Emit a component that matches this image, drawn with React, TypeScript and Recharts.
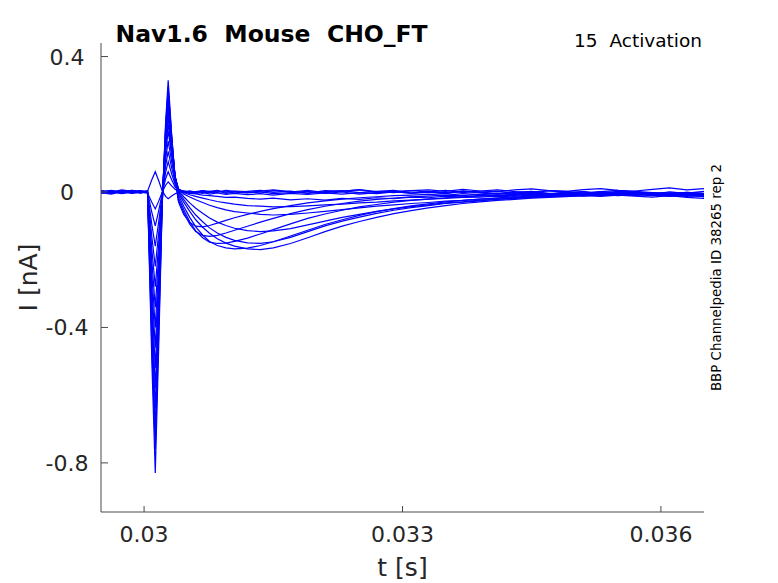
import React from 'react';
import { LineChart, Line, XAxis, YAxis } from 'recharts';

// sample times [s]
const times = [
  0.0295, 0.02962, 0.02974, 0.02986, 0.02996, 0.03004,
  0.03009, 0.03013, 0.03017, 0.03021, 0.03025, 0.03028, 0.03032, 0.03036, 0.0304,
  0.03046, 0.03053, 0.0306, 0.03068, 0.03076, 0.03085, 0.03095, 0.03105,
  0.0312, 0.03135, 0.0315, 0.0317, 0.0319, 0.0321, 0.0323, 0.0325, 0.0327, 0.0329, 0.0331,
  0.0333, 0.0335, 0.0337, 0.0339, 0.0341, 0.0343, 0.0345, 0.0347, 0.0349, 0.0351, 0.0353,
  0.0355, 0.0357, 0.0359, 0.0361, 0.0363, 0.0365,
];

// current sweeps [nA], one per voltage step
const sweep01 = [
  0.003, -0.002, 0.004, 0.001, -0.003, 0.002,
  0.036, 0.06, 0.033, 0.004, -0.013, -0.02, -0.012, -0.005, -0.001,
  0.003, 0.001, -0.002, 0.004, 0.002, -0.001, 0.005, 0.002,
  -0.002, 0.003, 0.006, 0.001, -0.003, 0.004, 0.002, 0.007, 0.001, -0.002, 0.004,
  0.006, 0.002, 0.008, 0.003, 0.001, 0.006, 0.009, 0.004, 0.002, 0.007, 0.01, 0.005, 0.003, 0.008, 0.012, 0.006, 0.01,
];
const sweep02 = [
  -0.004, 0.002, -0.001, 0.005, 0.0, -0.003,
  -0.03, -0.05, -0.027, -0.001, 0.02, 0.03, 0.018, 0.008, 0.002,
  -0.002, 0.003, 0.0, -0.004, 0.002, 0.005, -0.001, 0.003,
  0.001, -0.003, 0.004, 0.0, 0.005, -0.002, 0.003, 0.006, -0.001, 0.002, 0.004,
  0.0, 0.005, -0.002, 0.003, 0.006, 0.001, -0.003, 0.004, 0.002, -0.004, 0.001, 0.005, -0.002, -0.006, 0.0, -0.004, -0.008,
];
const sweep03 = [
  0.001, 0.005, -0.003, 0.002, 0.004, 0.0,
  -0.06, -0.1, -0.055, -0.004, 0.039, 0.06, 0.036, 0.015, 0.004,
  0.002, -0.003, 0.001, 0.004, -0.002, 0.0, 0.003, -0.004,
  0.002, 0.005, -0.001, 0.003, -0.004, 0.001, 0.004, -0.002, 0.002, 0.005, -0.003,
  0.001, -0.004, 0.003, 0.0, -0.005, -0.002, 0.002, -0.006, -0.003, 0.001, -0.007, -0.004, -0.009, -0.005, -0.01, -0.013, -0.011,
];
const sweep04 = [
  -0.002, -0.006, 0.001, -0.004, -0.001, -0.003,
  -0.096, -0.16, -0.088, -0.006, 0.058, 0.09, 0.054, 0.022, 0.005,
  -0.001, 0.002, -0.003, 0.001, -0.002, 0.003, -0.004, 0.0,
  -0.003, 0.001, -0.005, -0.002, 0.002, -0.004, 0.0, -0.006, -0.002, 0.001, -0.004,
  -0.001, -0.005, 0.002, -0.003, -0.006, -0.001, 0.001, -0.004, -0.008, -0.003, -0.006, -0.002, -0.007, -0.011, -0.006, -0.009, -0.014,
];
const sweep05 = [
  0.004, 0.0, 0.006, 0.002, -0.002, 0.003,
  -0.132, -0.22, -0.121, -0.008, 0.078, 0.12, 0.072, 0.03, 0.008,
  0.002, -0.002, -0.004, -0.001, -0.006, -0.003, -0.007, -0.004,
  -0.008, -0.005, -0.009, -0.004, -0.007, -0.003, -0.006, -0.002, -0.005, 0.0, -0.003,
  0.001, -0.002, 0.003, -0.001, 0.002, -0.004, 0.0, 0.004, -0.002, 0.001, -0.003, 0.002, -0.001, -0.005, 0.0, -0.003, 0.002,
];
const sweep06 = [
  -0.003, 0.001, -0.005, 0.0, 0.003, -0.002,
  -0.168, -0.28, -0.154, -0.012, 0.097, 0.15, 0.09, 0.036, 0.008,
  0.0, -0.004, -0.006, -0.009, -0.011, -0.013, -0.016, -0.015,
  -0.019, -0.021, -0.018, -0.023, -0.02, -0.024, -0.019, -0.022, -0.017, -0.02, -0.015,
  -0.017, -0.012, -0.015, -0.01, -0.013, -0.008, -0.011, -0.006, -0.009, -0.004, -0.008, -0.003, -0.007, -0.002, -0.006, -0.001, -0.005,
];
const sweep07 = [
  0.002, -0.003, 0.003, -0.001, 0.001, 0.004,
  -0.204, -0.34, -0.187, -0.015, 0.117, 0.18, 0.108, 0.043, 0.01,
  -0.002, -0.008, -0.013, -0.018, -0.023, -0.028, -0.032, -0.036,
  -0.04, -0.042, -0.044, -0.043, -0.041, -0.038, -0.036, -0.032, -0.03, -0.026, -0.024,
  -0.021, -0.019, -0.016, -0.015, -0.012, -0.013, -0.009, -0.01, -0.007, -0.008, -0.004, -0.007, -0.003, -0.006, -0.009, -0.004, -0.007,
];
const sweep08 = [
  -0.001, 0.003, -0.004, 0.002, -0.002, 0.001,
  -0.24, -0.4, -0.22, -0.018, 0.13, 0.2, 0.118, 0.045, 0.008,
  -0.006, -0.015, -0.023, -0.031, -0.039, -0.046, -0.053, -0.058,
  -0.062, -0.066, -0.068, -0.066, -0.062, -0.057, -0.052, -0.047, -0.042, -0.038, -0.034,
  -0.031, -0.027, -0.025, -0.021, -0.019, -0.017, -0.014, -0.013, -0.011, -0.008, -0.01, -0.006, -0.009, -0.005, -0.008, -0.006, -0.01,
];
const sweep09 = [
  0.003, -0.002, 0.001, 0.005, 0.0, -0.002,
  -0.276, -0.46, -0.253, -0.02, 0.143, 0.22, 0.128, 0.046, 0.004,
  -0.014, -0.032, -0.048, -0.063, -0.077, -0.089, -0.099, -0.107,
  -0.114, -0.117, -0.115, -0.108, -0.097, -0.086, -0.075, -0.066, -0.057, -0.05, -0.043,
  -0.038, -0.032, -0.029, -0.024, -0.022, -0.018, -0.016, -0.013, -0.012, -0.009, -0.01, -0.007, -0.009, -0.006, -0.01, -0.007, -0.011,
];
const sweep10 = [
  -0.002, 0.004, 0.0, -0.003, 0.002, 0.0,
  -0.312, -0.52, -0.286, -0.024, 0.155, 0.24, 0.138, 0.046, 0.0,
  -0.022, -0.046, -0.068, -0.088, -0.106, -0.121, -0.134, -0.143,
  -0.15, -0.152, -0.147, -0.134, -0.117, -0.1, -0.086, -0.074, -0.063, -0.054, -0.046,
  -0.04, -0.034, -0.03, -0.026, -0.021, -0.019, -0.015, -0.014, -0.011, -0.012, -0.008, -0.011, -0.007, -0.01, -0.013, -0.009, -0.014,
];
const sweep11 = [
  0.001, -0.004, 0.003, 0.0, -0.003, 0.002,
  -0.348, -0.58, -0.319, -0.028, 0.166, 0.26, 0.148, 0.048, -0.004,
  -0.03, -0.057, -0.082, -0.104, -0.122, -0.138, -0.151, -0.16,
  -0.168, -0.17, -0.165, -0.152, -0.135, -0.117, -0.101, -0.087, -0.075, -0.064, -0.055,
  -0.047, -0.04, -0.034, -0.029, -0.025, -0.022, -0.018, -0.016, -0.014, -0.011, -0.013, -0.009, -0.012, -0.015, -0.011, -0.016, -0.019,
];
const sweep12 = [
  -0.003, 0.002, -0.001, 0.004, -0.002, 0.001,
  -0.384, -0.64, -0.352, -0.032, 0.178, 0.28, 0.156, 0.046, -0.01,
  -0.042, -0.075, -0.103, -0.127, -0.146, -0.158, -0.165, -0.168,
  -0.166, -0.158, -0.147, -0.13, -0.113, -0.096, -0.082, -0.069, -0.058, -0.049, -0.041,
  -0.035, -0.029, -0.025, -0.021, -0.017, -0.015, -0.012, -0.01, -0.008, -0.009, -0.006, -0.008, -0.004, -0.007, -0.01, -0.006, -0.012,
];
const sweep13 = [
  0.002, -0.001, 0.004, -0.003, 0.001, -0.001,
  -0.42, -0.7, -0.385, -0.036, 0.188, 0.3, 0.162, 0.044, -0.018,
  -0.052, -0.088, -0.115, -0.135, -0.148, -0.152, -0.151, -0.146,
  -0.136, -0.124, -0.111, -0.094, -0.078, -0.065, -0.054, -0.044, -0.037, -0.03, -0.025,
  -0.021, -0.017, -0.014, -0.012, -0.009, -0.01, -0.006, -0.008, -0.004, -0.006, -0.002, -0.005, -0.001, -0.004, -0.007, -0.003, -0.008,
];
const sweep14 = [
  -0.001, 0.003, -0.002, 0.001, 0.003, -0.002,
  -0.456, -0.76, -0.418, -0.04, 0.192, 0.31, 0.164, 0.04, -0.025,
  -0.06, -0.095, -0.117, -0.128, -0.131, -0.128, -0.121, -0.113,
  -0.101, -0.089, -0.078, -0.064, -0.052, -0.042, -0.034, -0.027, -0.022, -0.018, -0.014,
  -0.012, -0.009, -0.011, -0.007, -0.005, -0.008, -0.004, -0.006, -0.002, -0.005, -0.001, -0.004, 0.0, -0.003, -0.006, -0.002, -0.005,
];
const sweep15 = [
  0.003, 0.0, -0.003, 0.002, -0.001, 0.002,
  -0.498, -0.83, -0.456, -0.044, 0.205, 0.33, 0.172, 0.038, -0.03,
  -0.066, -0.09, -0.101, -0.103, -0.099, -0.092, -0.084, -0.076,
  -0.066, -0.057, -0.049, -0.04, -0.032, -0.026, -0.021, -0.017, -0.014, -0.011, -0.009,
  -0.007, -0.01, -0.005, -0.008, -0.004, -0.006, -0.002, -0.005, -0.001, -0.004, 0.001, -0.003, 0.002, -0.002, -0.005, -0.001, -0.004,
];

const xTicks = [0.03, 0.033, 0.036];
const yTicks = [-0.8, -0.4, 0, 0.4];

const sweeps = [
  sweep01, sweep02, sweep03, sweep04, sweep05, sweep06, sweep07, sweep08,
  sweep09, sweep10, sweep11, sweep12, sweep13, sweep14, sweep15,
];

const rows = times.map((t, i) => {
  const row: Record<string, number> = { t };
  sweeps.forEach((s, k) => {
    row['s' + k] = s[i];
  });
  return row;
});

const FONT = 'DejaVu Sans, sans-serif';
const AXIS = '#4a4a4a';
const TEXT = '#262626';

const XTick = (props: any) => {
  const { x, y, payload } = props;
  return (
    <g>
      <line x1={x} x2={x} y1={y} y2={y - 6} stroke={AXIS} />
      <text x={x} y={y + 30} textAnchor="middle" fontSize={22} fontFamily={FONT} fill={TEXT}>
        {String(payload.value)}
      </text>
    </g>
  );
};

const YTick = (props: any) => {
  const { x, y, payload } = props;
  return (
    <g>
      <line x1={x} x2={x + 7} y1={y} y2={y} stroke={AXIS} />
      <text x={x - 34} y={y + 8} textAnchor="middle" fontSize={22} fontFamily={FONT} fill={TEXT}>
        {String(payload.value)}
      </text>
    </g>
  );
};

export default function App() {
  return (
    <div style={{ position: 'absolute', left: 0, top: 0, width: 778, height: 583, background: '#fff' }}>
      <LineChart width={778} height={583} data={rows} margin={{ top: 43, right: 74, bottom: 0, left: 0 }}>
        <XAxis
          dataKey="t"
          type="number"
          domain={[0.0295, 0.0365]}
          allowDataOverflow
          ticks={xTicks}
          interval={0}
          height={71}
          tickSize={0}
          tickMargin={0}
          tickLine={false}
          stroke={AXIS}
          tick={<XTick />}
        />
        <YAxis
          type="number"
          domain={[-0.945, 0.44]}
          allowDataOverflow
          ticks={yTicks}
          interval={0}
          width={101}
          tickSize={0}
          tickMargin={0}
          tickLine={false}
          stroke={AXIS}
          tick={<YTick />}
        />
        {sweeps.map((_, k) => (
          <Line
            key={k}
            dataKey={'s' + k}
            type="linear"
            stroke="#0000ff"
            strokeWidth={1.2}
            dot={false}
            isAnimationActive={false}
          />
        ))}
      </LineChart>
      <svg width={778} height={583} style={{ position: 'absolute', left: 0, top: 0, pointerEvents: 'none' }}>
        <text x={115.5} y={42} fontSize={23.5} fontWeight="bold" fontFamily={FONT} fill="#000" style={{ whiteSpace: 'pre' }}>
          {'Nav1.6  Mouse  CHO_FT'}
        </text>
        <text x={702} y={47} textAnchor="end" fontSize={18.5} fontFamily={FONT} fill="#000" style={{ whiteSpace: 'pre' }}>
          {'15  Activation'}
        </text>
        <text
          x={721}
          y={277.5}
          textAnchor="middle"
          fontSize={13.4}
          fontFamily={FONT}
          fill="#000"
          transform="rotate(-90 721 277.5)"
        >
          BBP Channelpedia ID 38265 rep 2
        </text>
        <text x={402.5} y={576} textAnchor="middle" fontSize={25} fontFamily={FONT} fill={TEXT}>
          t [s]
        </text>
        <text
          x={37}
          y={277.5}
          textAnchor="middle"
          fontSize={25}
          fontFamily={FONT}
          fill={TEXT}
          transform="rotate(-90 37 277.5)"
        >
          I [nA]
        </text>
      </svg>
    </div>
  );
}
